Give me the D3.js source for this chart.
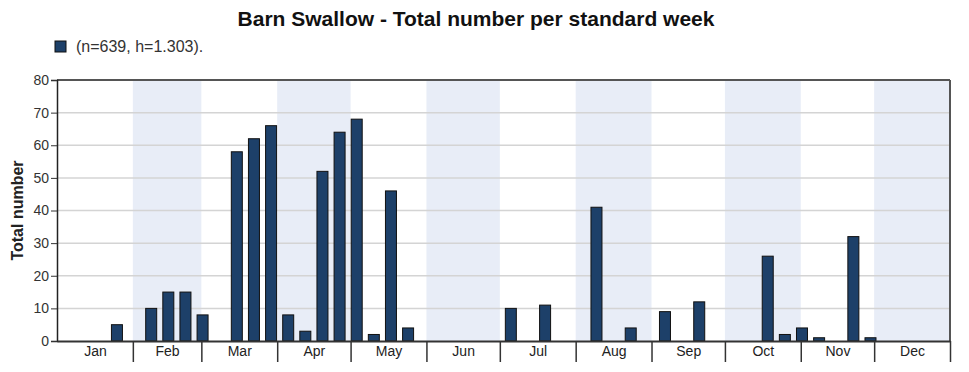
<!DOCTYPE html>
<html>
<head>
<meta charset="utf-8">
<script src="https://cdn.jsdelivr.net/npm/d3@7"></script>
<style>
  body { margin: 0; background: #fff; }
  text { font-family: "Liberation Sans", Arial, sans-serif; }
</style>
</head>
<body>
<div id="chart"></div>
<script>
// chart values
var weeks = d3.range(1, 53);
var totals = [0, 0, 0, 5, 0, 10, 15, 15, 8, 0, 58, 62, 66, 8, 3, 52, 64, 68, 2, 46,
              4, 0, 0, 0, 0, 0, 10, 0, 11, 0, 0, 41, 0, 4, 0, 9, 0, 12, 0, 0,
              0, 26, 2, 4, 1, 0, 32, 1, 0, 0, 0, 0];
var monthNames = ["Jan", "Feb", "Mar", "Apr", "May", "Jun", "Jul", "Aug", "Sep", "Oct", "Nov", "Dec"];
var yTicks = [0, 10, 20, 30, 40, 50, 60, 70, 80];
var legendText = "(n=639, h=1.303).";
var titleText = "Barn Swallow - Total number per standard week";

// set the specs
var width = 969;
var height = 372;
var marginLeft = 57;
var marginRight = 19;
var marginTop = 80;
var marginBottom = 31;
var barColor = "#1d4069";
var shadeColor = "#e8edf7";

var svg = d3.select("#chart")
    .append("svg")
    .attr("width", width)
    .attr("height", height);

var yearStart = new Date(Date.UTC(2023, 0, 1));
var yearEnd = new Date(Date.UTC(2024, 0, 1));
var months = d3.utcMonth.range(yearStart, yearEnd);

var xScale = d3.scaleUtc()
    .domain([yearStart, yearEnd])
    .range([marginLeft, width - marginRight]);

var yScale = d3.scaleLinear()
    .domain([0, 80])
    .range([height - marginBottom, marginTop]);

function weekCenter(w) {
    return new Date(yearStart.getTime() + ((w - 1) * 7 + 3.5) * 864e5);
}

// alternating month shading
svg.append("g")
    .selectAll("rect")
    .data(months.filter(function(d, i) { return i % 2 == 1; }))
    .enter()
    .append("rect")
    .attr("x", function(d) { return xScale(d); })
    .attr("width", function(d) { return xScale(d3.utcMonth.offset(d, 1)) - xScale(d); })
    .attr("y", yScale(80))
    .attr("height", yScale(0) - yScale(80))
    .attr("fill", shadeColor);

// gridlines
svg.append("g")
    .selectAll("line")
    .data(yTicks.slice(1, -1))
    .enter()
    .append("line")
    .attr("x1", marginLeft)
    .attr("x2", width - marginRight)
    .attr("y1", function(d) { return yScale(d); })
    .attr("y2", function(d) { return yScale(d); })
    .attr("stroke", "#d4d4d4")
    .attr("stroke-width", 1.5);

// bars
svg.append("g")
    .selectAll("rect")
    .data(weeks.filter(function(w) { return totals[w - 1] > 0; }))
    .enter()
    .append("rect")
    .attr("x", function(w) { return xScale(weekCenter(w)) - 5.5; })
    .attr("width", 11)
    .attr("y", function(w) { return yScale(totals[w - 1]); })
    .attr("height", function(w) { return yScale(0) - yScale(totals[w - 1]); })
    .attr("fill", barColor)
    .attr("stroke", "#111")
    .attr("stroke-width", 1);

// frame top and right
svg.append("line")
    .attr("x1", marginLeft).attr("x2", width - marginRight)
    .attr("y1", yScale(80)).attr("y2", yScale(80))
    .attr("stroke", "#555").attr("stroke-width", 2);
svg.append("line")
    .attr("x1", width - marginRight).attr("x2", width - marginRight)
    .attr("y1", yScale(80)).attr("y2", yScale(0))
    .attr("stroke", "#555").attr("stroke-width", 2);

// y axis
var yAxis = d3.axisLeft(yScale)
    .tickValues(yTicks)
    .tickSize(6)
    .tickPadding(2);

var yG = svg.append("g")
    .attr("transform", "translate(" + marginLeft + ",0)")
    .call(yAxis);
yG.select(".domain").attr("stroke", "#222").attr("stroke-width", 1.5);
yG.selectAll(".tick line").attr("stroke", "#333");
yG.selectAll(".tick text")
    .attr("font-size", 14)
    .attr("fill", "#333")
    .style("font-family", "Liberation Sans, Arial, sans-serif");

// x axis: boundary ticks
var xAxis = d3.axisBottom(xScale)
    .tickValues(months.slice(1).concat([yearEnd]))
    .tickSize(21)
    .tickSizeOuter(0)
    .tickFormat("");

var xG = svg.append("g")
    .attr("transform", "translate(0," + yScale(0) + ")")
    .call(xAxis);
xG.select(".domain").attr("stroke", "#333").attr("stroke-width", 2);
xG.selectAll(".tick line").attr("stroke", "#333").attr("stroke-width", 1.5);

// x axis: month labels
var xLabels = d3.axisBottom(xScale)
    .tickValues(months.map(function(d) {
        return new Date((d.getTime() + d3.utcMonth.offset(d, 1).getTime()) / 2);
    }))
    .tickSize(0)
    .tickPadding(5)
    .tickFormat(function(d, i) { return monthNames[i]; });

var xlG = svg.append("g")
    .attr("transform", "translate(0," + yScale(0) + ")")
    .call(xLabels);
xlG.select(".domain").remove();
xlG.selectAll(".tick text")
    .attr("font-size", 14)
    .attr("fill", "#222")
    .style("font-family", "Liberation Sans, Arial, sans-serif");

// y axis title
svg.append("text")
    .attr("transform", "translate(23," + ((yScale(0) + yScale(80)) / 2) + ") rotate(-90)")
    .attr("text-anchor", "middle")
    .attr("font-size", 16)
    .attr("font-weight", "bold")
    .attr("fill", "#222")
    .text("Total number");

// title
svg.append("text")
    .attr("x", 476)
    .attr("y", 26)
    .attr("text-anchor", "middle")
    .attr("font-size", 21)
    .attr("font-weight", "bold")
    .attr("fill", "#111")
    .text(titleText);

// legend
svg.append("rect")
    .attr("x", 55)
    .attr("y", 41)
    .attr("width", 11)
    .attr("height", 11)
    .attr("fill", barColor)
    .attr("stroke", "#111");
svg.append("text")
    .attr("x", 76)
    .attr("y", 52)
    .attr("font-size", 16)
    .attr("fill", "#333")
    .text(legendText);
</script>
</body>
</html>
